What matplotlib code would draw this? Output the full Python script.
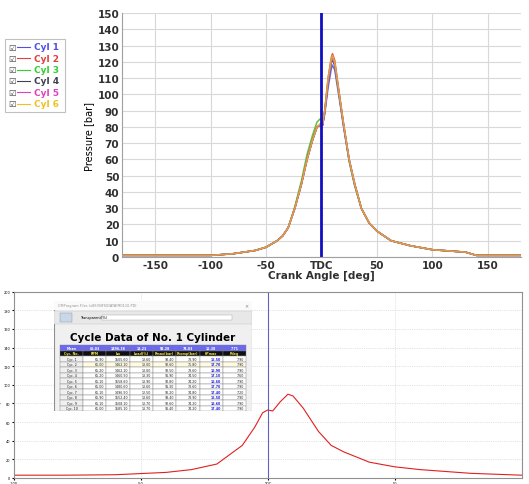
import matplotlib
matplotlib.use("Agg")
import matplotlib.pyplot as plt
from matplotlib.patches import Rectangle

angles = [-180,-140,-100,-80,-60,-50,-40,-35,-30,-24,-18,-13,-8,-4,-1,1,3,6,9,10,12,16,20,25,30,36,43,50,63,80,100,120,130,140,180]
cyl1 = [1,1,1,2,4,6,10,13,18,30,45,60,72,80,81,81,88,104,116,118,115,98,80,59,44,30,21,16,10,7,4.5,3.5,3,1,1]
cyl2 = [1,1,1,2,4,6,10,13,18,30,45,60,72,80,81,81,90,110,123,125,121,101,82,60,45,30,21,16,10,7,4.5,3.5,3,1,1]
cyl3 = [1,1,1,2,4,6,10,13,18,31,47,63,75,83,85,84,90,108,121,122,118,99,81,59,44,30,21,16,10,7,4.5,3.5,3,1,1]
cyl4 = [1,1,1,2,4,6,10,13,18,30,45,60,72,80,81,81,89,107,120,121,118,100,81,60,45,30,21,16,10,7,4.5,3.5,3,1,1]
cyl5 = [1,1,1,2,4,6,10,13,18,30,45,60,72,80,81,81,89,108,121,122,119,100,81,60,45,30,21,16,10,7,4.5,3.5,3,1,1]
cyl6 = [1,1,1,2,4,6,10,13,18,30,45,60,72,80,82,82,90,110,122,124,120,101,82,60,45,30,21,16,10,7,4.5,3.5,3,1,1]
names = ["Cyl 1","Cyl 2","Cyl 3","Cyl 4","Cyl 5","Cyl 6"]
colors = ["#5050e8","#e04040","#30d030","#404050","#e040c0","#f0c020"]
line_colors = ["#6a6af0","#e05050","#60c040","#505060","#d060b0","#e0a040"]

b_angles = [-100,-80,-60,-40,-30,-20,-10,-5,-2,0,2,5,8,10,14,20,25,30,40,50,60,80,100]
b_press = [3,3,3.5,6,9,15,35,55,70,73,72,82,90,88,75,50,35,28,17,12,9,5,3]

tbl_cols = ["Cyc. No.","RPM","kw","Load(%)","Pmax(bar)","Pcomp(bar)","θPmax","Pdeg"]
tbl_mean = ["Mean","65.03","1496.38","13.23","92.28","74.03","16.38","7.71"]
tbl_rows = [
 ["Cyc. 1","65.90","1505.60","13.60","93.40","73.90","15.50","7.90"],
 ["Cyc. 2","65.00","1462.10","13.00","92.60","75.80","17.70","7.90"],
 ["Cyc. 3","65.20","1462.10","13.00","92.50","73.60","16.90","7.90"],
 ["Cyc. 4","65.20","1460.90","13.30","91.90","74.50","17.10","7.60"],
 ["Cyc. 5","65.10","1558.60","13.90","92.80","74.20","16.60","7.90"],
 ["Cyc. 6","65.00","1480.60","13.60","91.30","73.60","17.70","7.90"],
 ["Cyc. 7","65.10","1496.50","12.50","92.20","74.80","17.40","7.20"],
 ["Cyc. 8","65.90","1552.40","13.60","93.40","73.90","15.50","7.90"],
 ["Cyc. 9","65.10","1508.10","13.70","92.60","74.20","16.60","7.90"],
 ["Cyc. 10","65.00","1585.10","13.70","91.40","74.20","17.40","7.90"],
]

fig = plt.figure(figsize=(5.29,4.85), dpi=100)

# ---------- top chart ----------
ax = fig.add_axes([0.2306,0.468,0.754,0.503])
for y, c in zip([cyl1,cyl2,cyl3,cyl4,cyl5,cyl6], line_colors):
    ax.plot(angles, y, color=c, lw=1.1)
ax.axvline(0, color="#1010c0", lw=2)
ax.set_xlim(-180,180)
ax.set_ylim(0,150)
ax.set_xticks([-150,-100,-50,0,50,100,150])
ax.set_xticklabels(["-150","-100","-50","TDC","50","100","150"])
ax.set_yticks(range(0,151,10))
ax.grid(color="#d8d8d8", lw=0.8)
for s in ["top","right"]:
    ax.spines[s].set_visible(False)
for s in ["left","bottom"]:
    ax.spines[s].set_color("#a0a0a0")
ax.tick_params(labelsize=7.5, length=0, pad=2)
for t in ax.get_xticklabels()+ax.get_yticklabels():
    t.set_fontweight("bold"); t.set_color("#303030")
ax.set_xlabel("Crank Angle [deg]", fontsize=7.5, fontweight="bold", labelpad=0, color="#303030")
ax.set_ylabel("Pressure [bar]", fontsize=7, labelpad=2)

# legend
fig.patches.append(Rectangle((5/529, 1-113/485), 60/529, 73/485, transform=fig.transFigure,
                             fc="white", ec="#c0c0c0", lw=0.8))
for i,(n,c) in enumerate(zip(names,colors)):
    yy = 1-(48+i*11.3)/485
    fig.text(12/529, yy, "☑", fontsize=6, va="center", ha="center", color="#404040")
    fig.lines.append(plt.Line2D([17/529,30/529],[yy,yy], transform=fig.transFigure, color=c, lw=0.8))
    fig.text(34/529, yy, n, fontsize=6.5, fontweight="bold", color=c, va="center")

# ---------- bottom chart ----------
bx = fig.add_axes([0.026,0.0124,0.960,0.384])
bx.plot(b_angles, b_press, color="#e02020", lw=0.8)
bx.axvline(0, color="#6060c0", lw=0.8)
bx.set_xlim(-100,100)
bx.set_ylim(0,200)
bx.set_xticks([-100,-50,0,50])
bx.set_xticklabels(["-100","-50","TDC","50"])
bx.set_yticks(range(0,201,20))
bx.grid(color="#c8c8c8", lw=0.5, ls=":")
bx.tick_params(labelsize=2.5, length=1.5, pad=1)
for s in bx.spines.values():
    s.set_color("#909090")
bx.set_ylabel("Cylinder Pressure (bar)", fontsize=2.5, labelpad=1)

# dialog
dx = fig.add_axes([54/529, 1-412/485, 198/529, 110/485])
dx.set_xlim(0,1); dx.set_ylim(0,1); dx.axis("off")
dx.add_patch(Rectangle((0,0),1,1, fc="#f0f0f0", ec="#909090", lw=0.8))
dx.add_patch(Rectangle((0,0.92),1,0.08, fc="#fafafa", ec="none"))
dx.text(0.02,0.96,"CMProgram Files (x86)\\NFS\\DATA\\M0110.PDI", fontsize=2.5, color="#909090", va="center")
dx.text(0.98,0.96,"×", fontsize=3.5, color="#808080", va="center", ha="right")
dx.add_patch(Rectangle((0,0.79),1,0.12, fc="#e8e8e8", ec="#c0c0c0", lw=0.3))
dx.add_patch(Rectangle((0.03,0.81),0.06,0.08, fc="#c8d8e8", ec="#8090a0", lw=0.3))
dx.text(0.13,0.85,"Transparent(%)", fontsize=2.5, va="center")
dx.add_patch(Rectangle((0.24,0.83),0.66,0.04, fc="white", ec="#a0a0a0", lw=0.3))
dx.text(0.5,0.67,"Cycle Data of No. 1 Cylinder", fontsize=7.5, fontweight="bold", ha="center", va="center")
x0, x1 = 0.03, 0.97
colw = (x1-x0)/8
ytop, rowh = 0.60, 0.05
allrows = [tbl_mean, tbl_cols] + tbl_rows
for r,row in enumerate(allrows):
    y = ytop - (r+1)*rowh
    for c,val in enumerate(row):
        if r == 0:
            fc, tc = "#6a6af0", "#ffffff"
        elif r == 1:
            fc, tc = "#101010", "#f0e040"
        else:
            fc = "#fffbe0" if r == 3 else "white"
            tc = "#202020"
            if c == 0: fc = "#f0f0f0"
        dx.add_patch(Rectangle((x0+c*colw, y), colw, rowh, fc=fc, ec="#808080", lw=0.3))
        if r >= 2 and c == 6: tc = "#2020e0"
        centered = (c == 0 or r < 2)
        xt = x0 + (c+0.5)*colw if centered else x0 + (c+0.92)*colw
        dx.text(xt, y+rowh/2, val, fontsize=2.3, ha="center" if centered else "right",
                va="center", color=tc, fontweight="bold" if r < 2 or c == 6 else "normal")

fig.savefig("out.png", dpi=100)
